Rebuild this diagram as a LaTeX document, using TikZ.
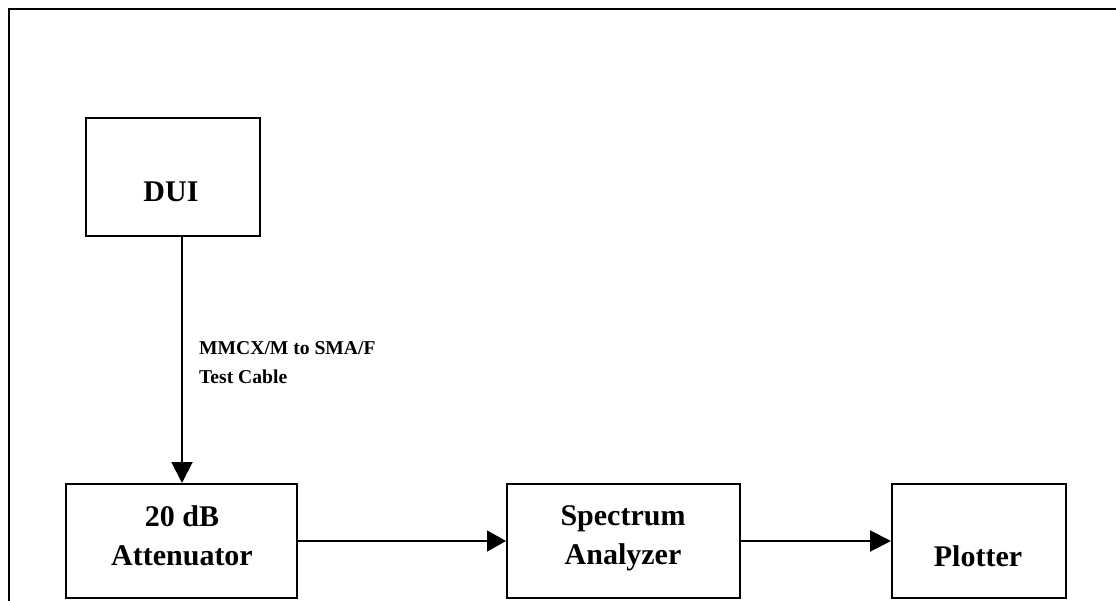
\documentclass[tikz,border=0pt]{standalone}
\usepackage{fontspec}
\setmainfont{Liberation Serif}
\usetikzlibrary{arrows.meta}

\tikzset{
  unit/.style={draw, line width=2pt, inner sep=0pt},
  unittext/.style={font=\fontsize{30}{39}\selectfont\bfseries, align=center, inner sep=0pt},
  cablelabel/.style={font=\fontsize{19.6}{29}\selectfont\bfseries, align=left, inner sep=0pt, anchor=north west},
  signal/.style={line width=2pt, -{Triangle[length=21pt,width=21pt]}},
  thinsignal/.style={line width=1.3pt, -{Triangle[length=19pt,width=21pt]}},
}

\begin{document}
\begin{tikzpicture}[x=1pt, y=-1pt]
  \useasboundingbox (0,0) rectangle (1116,600);
  \clip (0,0) rectangle (1116,600);

  % page frame
  \draw[line width=2.5pt] (9,620) -- (9,9) -- (1130,9);

  % equipment boxes
  \node[unit, minimum width=174pt, minimum height=118pt] (dui) at (173,177) {};
  \node[unit, minimum width=231pt, minimum height=114pt] (att) at (181.5,541) {};
  \node[unit, minimum width=233pt, minimum height=114pt] (sa)  at (623.5,541) {};
  \node[unit, minimum width=174pt, minimum height=114pt] (plt) at (979,541) {};

  % box captions
  \node[unittext] (duitext) at (171,192) {DUI};
  \node[unittext] (atttext) at (182,536) {20 dB\\Attenuator};
  \node[unittext] (satext)  at (623,538) {Spectrum\\Analyzer};
  \node[unittext] (plttext) at (978,556) {Plotter};

  % signal path
  \draw[signal] (dui.south -| 182,0) -- (att.north -| 182,0);
  \draw[thinsignal] (att.east) -- (sa.west);
  \draw[signal] (sa.east) -- (plt.west);

  % cable description
  \node[cablelabel] (cable) at (199,341) {MMCX/M to SMA/F\\Test Cable};
\end{tikzpicture}
\end{document}
